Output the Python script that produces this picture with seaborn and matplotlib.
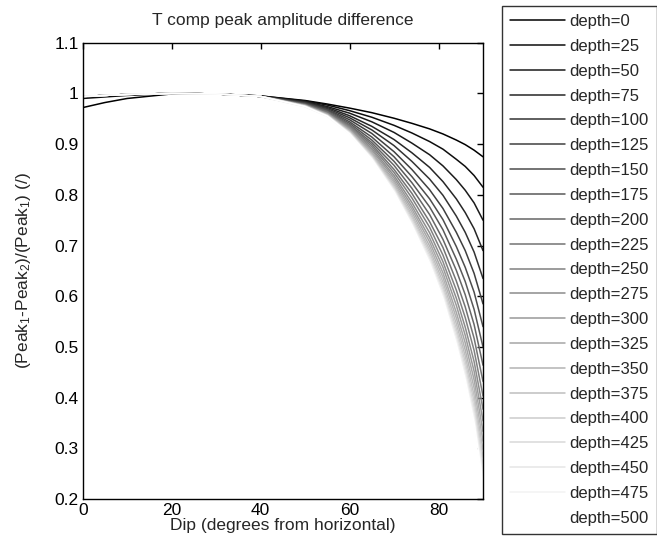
import matplotlib
matplotlib.use("Agg")
import matplotlib.pyplot as plt
import seaborn as sns
import pandas as pd

# ---- data ----
dip = [0, 5, 10, 20, 30, 40, 50, 55, 60, 65, 70, 74, 78, 81, 84, 86, 88, 90]
depths = [0, 25, 50, 75, 100, 125, 150, 175, 200, 225, 250,
          275, 300, 325, 350, 375, 400, 425, 450, 475, 500]

head0 = [0.972, 0.982, 0.990, 0.999, 0.999, 0.995]
head1 = [0.990, 0.993, 0.996, 1.000, 0.999, 0.995]
headn = [0.994, 0.996, 0.998, 1.000, 0.999, 0.994]

r000 = head0 + [0.986, 0.979, 0.971, 0.962, 0.951, 0.941, 0.930, 0.920, 0.908, 0.899, 0.888, 0.875]
r025 = head1 + [0.985, 0.977, 0.966, 0.953, 0.937, 0.922, 0.905, 0.890, 0.870, 0.856, 0.838, 0.815]
r050 = headn + [0.984, 0.974, 0.961, 0.944, 0.923, 0.902, 0.879, 0.857, 0.830, 0.809, 0.784, 0.750]
r075 = headn + [0.983, 0.972, 0.956, 0.935, 0.909, 0.883, 0.854, 0.826, 0.792, 0.765, 0.733, 0.690]
r100 = headn + [0.982, 0.970, 0.952, 0.928, 0.897, 0.866, 0.831, 0.799, 0.758, 0.726, 0.687, 0.635]
r125 = headn + [0.981, 0.968, 0.948, 0.921, 0.885, 0.850, 0.810, 0.773, 0.726, 0.690, 0.645, 0.585]
r150 = headn + [0.980, 0.967, 0.944, 0.914, 0.875, 0.836, 0.792, 0.751, 0.698, 0.657, 0.608, 0.540]
r175 = headn + [0.979, 0.965, 0.941, 0.908, 0.866, 0.824, 0.776, 0.731, 0.673, 0.629, 0.574, 0.500]
r200 = headn + [0.978, 0.964, 0.938, 0.903, 0.858, 0.813, 0.761, 0.712, 0.651, 0.603, 0.544, 0.464]
r225 = headn + [0.978, 0.963, 0.936, 0.899, 0.850, 0.803, 0.747, 0.696, 0.630, 0.579, 0.517, 0.432]
r250 = headn + [0.977, 0.961, 0.934, 0.895, 0.844, 0.794, 0.736, 0.681, 0.612, 0.558, 0.493, 0.403]
r275 = headn + [0.977, 0.960, 0.932, 0.891, 0.838, 0.785, 0.725, 0.668, 0.596, 0.539, 0.471, 0.377]
r300 = headn + [0.976, 0.960, 0.930, 0.888, 0.833, 0.778, 0.715, 0.657, 0.582, 0.523, 0.452, 0.354]
r325 = headn + [0.976, 0.959, 0.928, 0.884, 0.828, 0.772, 0.707, 0.646, 0.568, 0.508, 0.435, 0.333]
r350 = headn + [0.976, 0.958, 0.927, 0.882, 0.824, 0.766, 0.699, 0.637, 0.557, 0.494, 0.419, 0.314]
r375 = headn + [0.975, 0.957, 0.925, 0.879, 0.820, 0.760, 0.692, 0.628, 0.546, 0.482, 0.404, 0.297]
r400 = headn + [0.975, 0.957, 0.924, 0.877, 0.816, 0.756, 0.686, 0.620, 0.536, 0.471, 0.392, 0.282]
r425 = headn + [0.975, 0.956, 0.923, 0.875, 0.813, 0.751, 0.680, 0.613, 0.528, 0.461, 0.380, 0.268]
r450 = headn + [0.974, 0.956, 0.922, 0.873, 0.810, 0.747, 0.675, 0.607, 0.520, 0.452, 0.369, 0.255]
r475 = headn + [0.974, 0.955, 0.921, 0.872, 0.808, 0.743, 0.670, 0.601, 0.512, 0.443, 0.359, 0.243]
r500 = headn + [0.974, 0.955, 0.920, 0.870, 0.805, 0.740, 0.665, 0.595, 0.505, 0.435, 0.350, 0.232]

curves = [r000, r025, r050, r075, r100, r125, r150, r175, r200, r225, r250,
          r275, r300, r325, r350, r375, r400, r425, r450, r475, r500]

labels = [f"depth={d}" for d in depths]
greys = [str(i / (len(depths) - 1)) for i in range(len(depths))]

rows = []
for lab, vals in zip(labels, curves):
    for x, y in zip(dip, vals):
        rows.append({"dip": x, "ratio": y, "depth": lab})
df = pd.DataFrame(rows)

# ---- style ----
sns.set_style("white")
plt.rcParams["font.family"] = ["Liberation Sans", "DejaVu Sans"]
plt.rcParams["mathtext.fontset"] = "custom"
plt.rcParams["mathtext.rm"] = "Liberation Sans"
plt.rcParams["mathtext.it"] = "Liberation Sans:italic"

W, H = 657, 547
fig = plt.figure(figsize=(W / 100, H / 100), dpi=100)
ax = fig.add_axes([82.7 / W, 1 - 499 / H, (483 - 82.7) / W, (499 - 42.7) / H])

sns.lineplot(data=df, x="dip", y="ratio", hue="depth", hue_order=labels,
             palette=greys, linewidth=1.1, ax=ax, legend=True, sort=False)

ax.set_xlim(0, 90)
ax.set_ylim(0.2, 1.1)
ax.set_xticks([0, 20, 40, 60, 80])
ax.set_yticks([0.2, 0.3, 0.4, 0.5, 0.6, 0.7, 0.8, 0.9, 1.0, 1.1])
ax.set_yticklabels(["0.2", "0.3", "0.4", "0.5", "0.6", "0.7", "0.8", "0.9", "1", "1.1"])
ax.tick_params(direction="in", top=True, right=True, length=4, width=1,
               labelsize=12.5, colors="black", pad=3)
for s in ax.spines.values():
    s.set_visible(True)
    s.set_color("black")
    s.set_linewidth(1.0)

ax.set_title("T comp peak amplitude difference", fontsize=12.5, pad=13)
ax.set_xlabel("Dip (degrees from horizontal)", fontsize=12.5, labelpad=0)
ax.set_ylabel("(Peak$_1$-Peak$_2$)/(Peak$_1$) (/)", fontsize=12.5, labelpad=15)

handles, labs = ax.get_legend_handles_labels()
leg = ax.legend(handles, labs, loc="upper left",
                bbox_to_anchor=(501.7 / W, 1 - 6 / H), bbox_transform=fig.transFigure,
                borderaxespad=0, fontsize=12, frameon=True, fancybox=False,
                edgecolor="black", handlelength=3.3, handletextpad=0.3,
                labelspacing=0.59, borderpad=0.48)
leg.get_frame().set_linewidth(1.0)
for ln in leg.get_lines():
    ln.set_linewidth(1.1)

fig.savefig("out.png", dpi=100, facecolor="white")
